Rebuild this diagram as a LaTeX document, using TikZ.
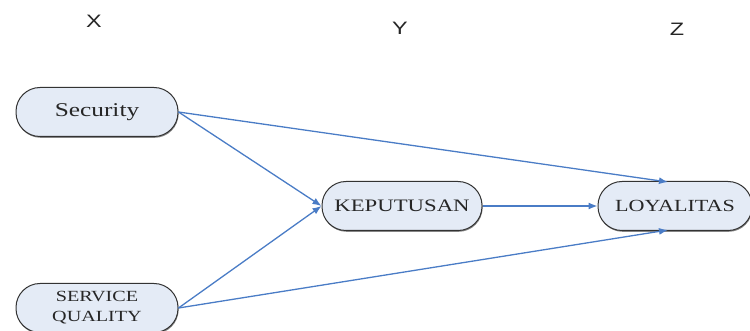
\documentclass[tikz,border=0pt]{standalone}
\usepackage{fontspec}
\usepackage{graphicx}
\setmainfont{Liberation Serif}
\newfontfamily\labfont{Liberation Sans}
\usetikzlibrary{arrows.meta,shadows}
\definecolor{nodefill}{HTML}{E4EBF6}
\definecolor{arrowblue}{HTML}{4A7CC6}
\newcommand{\wide}[1]{\scalebox{1.3}[1]{#1}}
\tikzset{
  varbox/.style={draw=black!80, line width=1pt, fill=nodefill, rounded corners=24pt,
    minimum height=49pt, inner sep=0pt, align=center, text=black!85,
    drop shadow={shadow xshift=0.6pt, shadow yshift=-1.3pt, fill=black!60, opacity=0.8}},
  conn/.style={draw=arrowblue, line width=1.3pt, -{Latex[length=9pt,width=7pt]}},
  axislab/.style={font=\labfont\fontsize{18}{20}\selectfont, text=black!85}
}
\begin{document}
\begin{tikzpicture}[x=1pt,y=1pt]
\useasboundingbox (0,0) rectangle (750,-331);
\node[axislab] (lx) at (94,-21) {\wide{X}};
\node[axislab] (ly) at (400,-28) {\wide{Y}};
\node[axislab] (lz) at (677,-29) {\wide{Z}};
\node[varbox, minimum width=162pt, font=\fontsize{19.5}{21}\selectfont] (sec) at (97,-112) {\wide{Security}};
\node[varbox, minimum width=162pt, font=\fontsize{15.5}{20}\selectfont] (svc) at (97,-308) {\wide{SERVICE}\\\wide{QUALITY}};
\node[varbox, minimum width=160pt, font=\fontsize{17.5}{19}\selectfont] (kep) at (402,-206) {\wide{KEPUTUSAN}};
\node[varbox, minimum width=154pt, font=\fontsize{17}{19}\selectfont] (loy) at (675,-206) {\wide{LOYALITAS}};
\coordinate (loytop) at (668,-182);
\coordinate (loybot) at (668,-230);
\draw[conn] (sec.east) -- (kep.west);
\draw[conn] (sec.east) -- (loytop);
\draw[conn] (svc.east) -- (kep.west);
\draw[conn] (svc.east) -- (loybot);
\draw[conn] (kep.east) -- (loy.west);
\end{tikzpicture}
\end{document}
